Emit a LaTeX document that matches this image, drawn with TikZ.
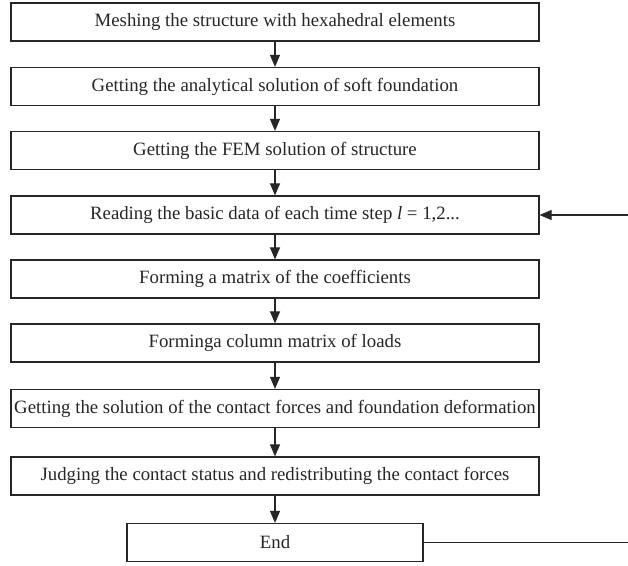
\documentclass[tikz,border=0pt]{standalone}
\usepackage{fontspec}
\setmainfont{Liberation Serif}
\usetikzlibrary{arrows.meta}
\begin{document}
\begin{tikzpicture}[x=1pt,y=-1pt,
  box/.style={draw=black!85, line width=1.2pt, minimum height=38pt, inner sep=0pt, font=\fontsize{18.8}{21}\selectfont, text=black!85},
  wide/.style={box, minimum width=528pt},
  arr/.style={draw=black!85, line width=1.1pt, -{Triangle[length=12pt,width=10pt]}},
  ln/.style={draw=black!85, line width=1.1pt}]
\useasboundingbox (0,0) rectangle (628,565);
\node[wide] (b1) at (275,22) {Meshing the structure with hexahedral elements};
\node[wide] (b2) at (275,86.5) {Getting the analytical solution of soft foundation};
\node[wide] (b3) at (275,150.5) {Getting the FEM solution of structure};
\node[wide] (b4) at (275,215) {Reading the basic data of each time step \textit{l} = 1,2...};
\node[wide] (b5) at (275,279) {Forming a matrix of the coefficients};
\node[wide] (b6) at (275,343) {Forminga column matrix of loads};
\node[wide] (b7) at (275,408.5) {Getting the solution of the contact forces and foundation deformation};
\node[wide] (b8) at (275,476) {Judging the contact status and redistributing the contact forces};
\node[box, minimum width=296pt] (b9) at (275,542.5) {End};
\draw[arr] (b1) -- (b2);
\draw[arr] (b2) -- (b3);
\draw[arr] (b3) -- (b4);
\draw[arr] (b4) -- (b5);
\draw[arr] (b5) -- (b6);
\draw[arr] (b6) -- (b7);
\draw[arr] (b7) -- (b8);
\draw[arr] (b8) -- (b9);
\coordinate (r1) at (628,215);
\coordinate (r2) at (628,542.5);
\draw[arr] (r1) -- (b4);
\draw[ln] (b9) -- (r2);
\end{tikzpicture}
\end{document}
